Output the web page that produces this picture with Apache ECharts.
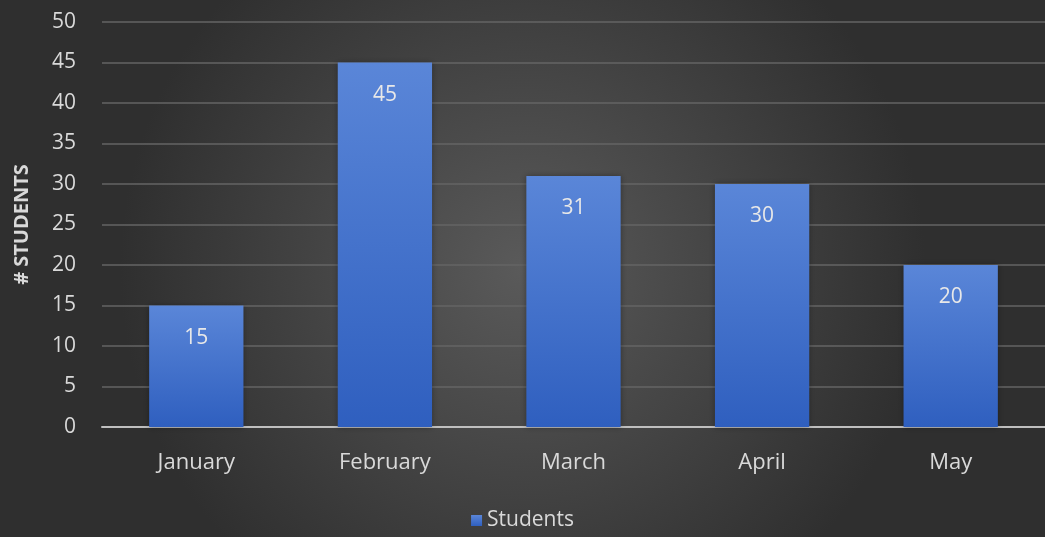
<!DOCTYPE html>
<html>
<head>
<meta charset="utf-8">
<script src="https://cdn.jsdelivr.net/npm/echarts@6/dist/echarts.min.js"></script>
<style>
html,body{margin:0;padding:0;width:1045px;height:537px;overflow:hidden;}
#c{width:1045px;height:537px;}
</style>
</head>
<body>
<div id="c"></div>
<script>
var categories = ["January", "February", "March", "April", "May"];
var students = [15, 45, 31, 30, 20];
var seriesName = "Students";
var yAxisTitle = "# STUDENTS";

var chart = echarts.init(document.getElementById('c'));
var font = '"Open Sans", Lato, sans-serif';
chart.setOption({
  backgroundColor: new echarts.graphic.RadialGradient(0.5, 0.5, 0.75, [
    {offset: 0, color: '#5a5a5a'},
    {offset: 1, color: '#2f2f2f'}
  ]),
  animation: false,
  grid: {left: 102, top: 22, width: 945, height: 405, containLabel: false},
  legend: {
    bottom: 1, left: 'center',
    itemWidth: 11, itemHeight: 11, itemGap: 5,
    icon: 'rect',
    textStyle: {color: '#d9d9d9', fontSize: 21, fontFamily: font},
    data: [seriesName]
  },
  xAxis: {
    type: 'category', data: categories,
    axisTick: {show: false},
    axisLine: {lineStyle: {color: '#bfbfbf', width: 2}},
    axisLabel: {color: '#d9d9d9', fontSize: 22, fontFamily: font, margin: 25}
  },
  yAxis: {
    type: 'value', min: 0, max: 50, interval: 5,
    name: yAxisTitle, nameLocation: 'middle', nameGap: 70, nameRotate: 90,
    nameTextStyle: {color: '#d9d9d9', fontSize: 20, fontWeight: 'bold', fontFamily: font},
    axisLine: {show: false}, axisTick: {show: false},
    axisLabel: {color: '#d9d9d9', fontSize: 21, fontFamily: font, margin: 26},
    splitLine: {lineStyle: {color: '#646464', width: 1.5}}
  },
  series: [{
    name: seriesName, type: 'bar', data: students, barWidth: '50%',
    itemStyle: {
      color: new echarts.graphic.LinearGradient(0, 0, 0, 1, [
        {offset: 0, color: '#5a86d8'},
        {offset: 1, color: '#2f5fbf'}
      ]),
      shadowColor: 'rgba(0,0,0,0.35)', shadowBlur: 6
    },
    label: {show: true, position: 'insideTop', distance: 22, color: '#e8e8e8', fontSize: 21, fontFamily: font}
  }]
});
</script>
</body>
</html>
